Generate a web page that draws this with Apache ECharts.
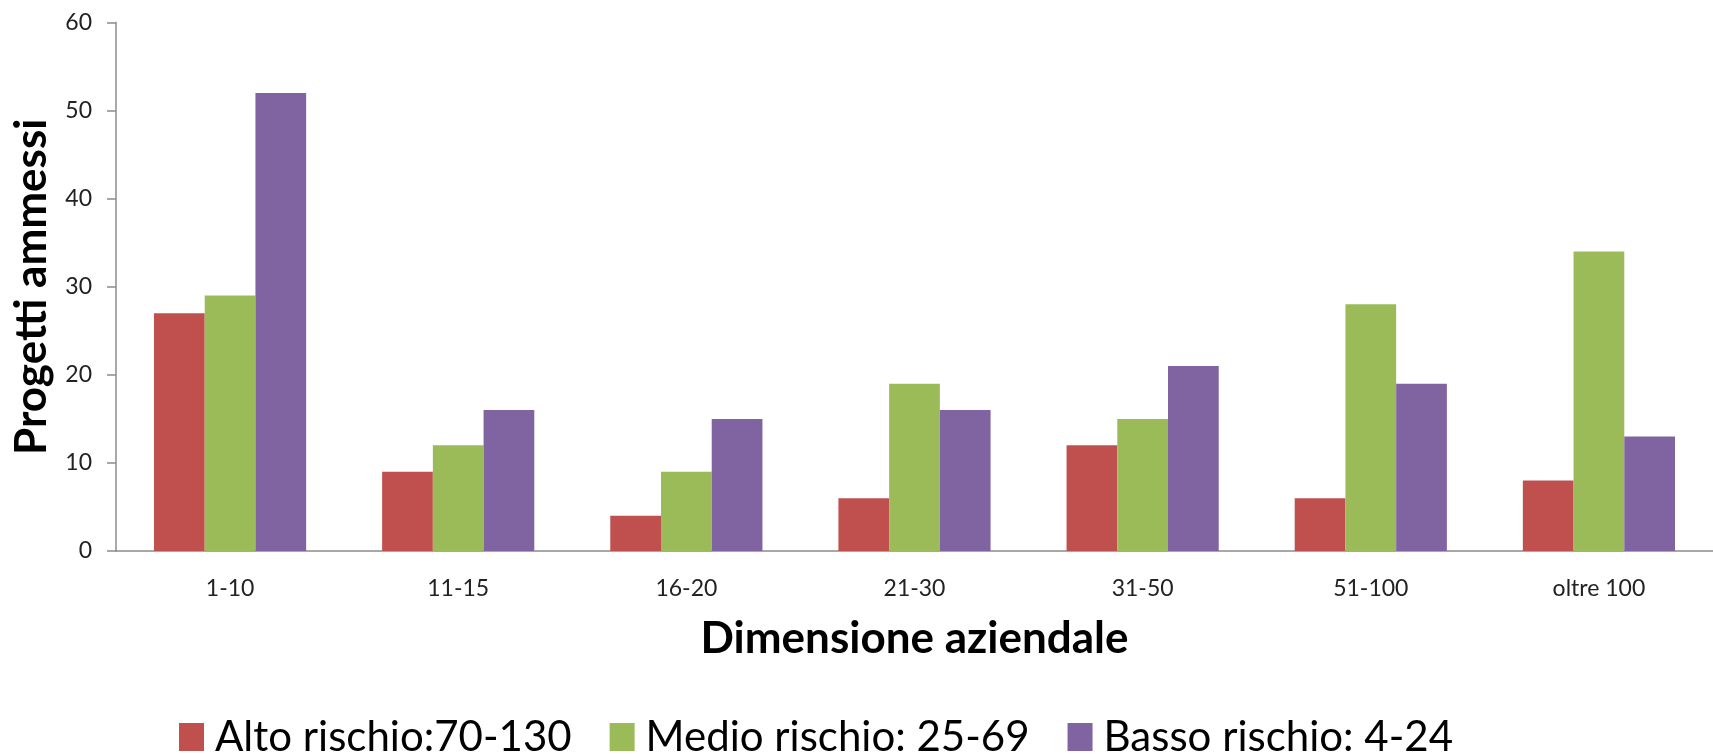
<!DOCTYPE html>
<html>
<head>
<meta charset="utf-8">
<script src="https://cdn.jsdelivr.net/npm/echarts@6/dist/echarts.min.js"></script>
<style>
html,body{margin:0;padding:0;background:#fff;}
#chart{width:1713px;height:754px;}
</style>
</head>
<body>
<div id="chart"></div>
<script>
const categories = ['1-10', '11-15', '16-20', '21-30', '31-50', '51-100', 'oltre 100'];
const seriesNames = ['Alto rischio:70-130', 'Medio rischio: 25-69', 'Basso rischio: 4-24'];
const altoRischio = [27, 9, 4, 6, 12, 6, 8];
const medioRischio = [29, 12, 9, 19, 15, 28, 34];
const bassoRischio = [52, 16, 15, 16, 21, 19, 13];
const yTicks = [0, 10, 20, 30, 40, 50, 60];
const colors = ['#C0504D', '#9BBB59', '#8064A2'];

const FONT = 'Lato, "Open Sans", sans-serif';
const chart = echarts.init(document.getElementById('chart'));
const seriesData = [altoRischio, medioRischio, bassoRischio];

chart.setOption({
  animation: false,
  backgroundColor: '#ffffff',
  color: colors,
  grid: { left: 116, top: 22.5, width: 1614, bottom: 203, containLabel: false },
  legend: {
    left: 174,
    top: 711,
    itemWidth: 25,
    itemHeight: 28,
    itemGap: 38,
    icon: 'rect',
    textStyle: { fontFamily: FONT, fontSize: 42, color: '#000', padding: [0, 0, 0, 6] },
    data: seriesNames
  },
  xAxis: {
    type: 'category',
    data: categories,
    name: 'Dimensione aziendale',
    nameLocation: 'middle',
    nameGap: 66,
    nameTextStyle: { fontFamily: FONT, fontSize: 44, fontWeight: 'bold', color: '#000' },
    axisLine: { show: true, lineStyle: { color: '#8c8c8c', width: 1.5 } },
    axisTick: { show: false },
    axisLabel: { fontFamily: FONT, fontSize: 23, color: '#222', margin: 26 }
  },
  yAxis: {
    type: 'value',
    min: yTicks[0],
    max: yTicks[yTicks.length - 1],
    interval: 10,
    name: 'Progetti ammessi',
    nameLocation: 'middle',
    nameGap: 62,
    nameRotate: 90,
    nameTextStyle: { fontFamily: FONT, fontSize: 44, fontWeight: 'bold', color: '#000' },
    axisLine: { show: true, lineStyle: { color: '#8c8c8c', width: 1.5 } },
    axisTick: { show: true, length: 9, lineStyle: { color: '#8c8c8c', width: 1.5 } },
    splitLine: { show: false },
    axisLabel: { fontFamily: FONT, fontSize: 23, color: '#222', margin: 24 }
  },
  series: seriesNames.map((name, i) => ({
    name: name,
    type: 'bar',
    data: seriesData[i],
    barGap: '0%',
    barCategoryGap: '33.3%',
    itemStyle: { color: colors[i] }
  }))
});
</script>
</body>
</html>
